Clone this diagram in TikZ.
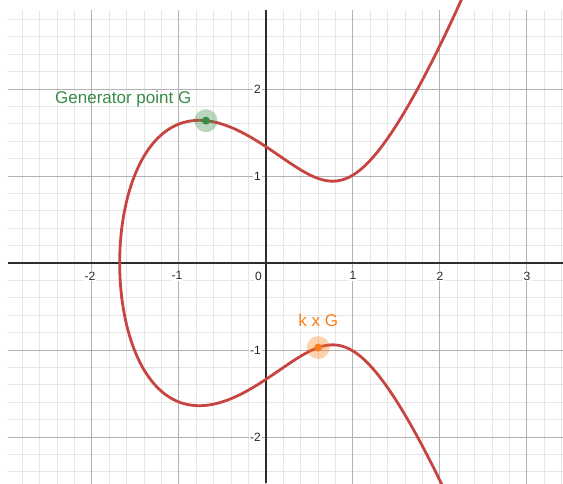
\documentclass[tikz,border=0pt]{standalone}
\usepackage{fontspec}
\setmainfont{Liberation Sans}
\usepackage{tikz}
\usetikzlibrary{positioning}
\definecolor{curvered}{RGB}{199,68,64}
\definecolor{genergreen}{RGB}{56,140,70}
\definecolor{multorange}{RGB}{250,126,25}
\definecolor{minorgrid}{RGB}{230,230,230}
\definecolor{majorgrid}{RGB}{178,178,178}
\definecolor{axisgray}{RGB}{45,45,45}
\def\ea{-1.765}
\def\eb{1.787}
\def\er{-1.6816}

\begin{document}
\begin{tikzpicture}[x=87pt, y=87pt,
  declare function={ec(\x)=\x*\x*\x+\ea*\x+\eb;},
  tick/.style={font=\fontsize{12}{14}\selectfont, text=black!85, fill=white, inner sep=1pt},
  ptlabel/.style={font=\fontsize{17}{20}\selectfont, inner sep=0pt},
  curve/.style={draw=curvered, line width=2.8pt, line join=round, line cap=round}
]
  \useasboundingbox (-3.057,-2.529) rectangle (3.414,3.023);
  % grid
  \begin{scope}
    \clip (-2.966,-2.529) rectangle (3.414,2.908);
    \draw[minorgrid, line width=1pt] (-3.2,-2.6) grid[step=0.2] (3.6,3.2);
    \draw[majorgrid, line width=1pt] (-3.2,-2.6) grid[step=1] (3.6,3.2);
  \end{scope}
  \draw[axisgray, line width=1.5pt] (-2.966,0) -- (3.414,0);
  \draw[axisgray, line width=1.5pt] (0,-2.529) -- (0,2.908);
  % tick labels
  \foreach \k in {1,2,3}
    \node[tick, anchor=north] (xt\k) at ([yshift=-7.5pt]\k,0) {\k};
  \foreach \k in {-2,-1}
    \node[tick, anchor=north] (xt\k) at ([xshift=-2pt, yshift=-7.5pt]\k,0) {\k};
  \node[tick, anchor=north east] (xt0) at ([xshift=-3pt, yshift=-7.5pt]0,0) {0};
  \foreach \k in {-2,-1,1,2}
    \node[tick, anchor=east] (yt\k) at ([xshift=-4pt]0,\k) {\k};
  % curve
  \begin{scope}
    \clip (-3.057,-2.529) rectangle (3.414,3.023);
    \draw[curve, samples=150, variable=\t]
      plot[domain=2.0:0] ({\er+\t*\t}, {-sqrt(abs(ec(\er+\t*\t)))})
      -- plot[domain=0:2.0] ({\er+\t*\t}, {sqrt(abs(ec(\er+\t*\t)))});
  \end{scope}
  % points
  \coordinate (G) at (-0.69,1.636);
  \coordinate (kG) at (0.60,-0.972);
  \fill[genergreen, fill opacity=0.35] (G) circle (11.5pt);
  \fill[genergreen] (G) circle (4pt);
  \fill[multorange, fill opacity=0.35] (kG) circle (11.5pt);
  \fill[multorange] (kG) circle (4pt);
  \node[ptlabel, text=genergreen, anchor=base west] (glabel) at (-2.425,1.833) {Generator point G};
  \node[ptlabel, text=multorange, above=20.7pt of kG] (klabel) {k x G};
\end{tikzpicture}
\end{document}
